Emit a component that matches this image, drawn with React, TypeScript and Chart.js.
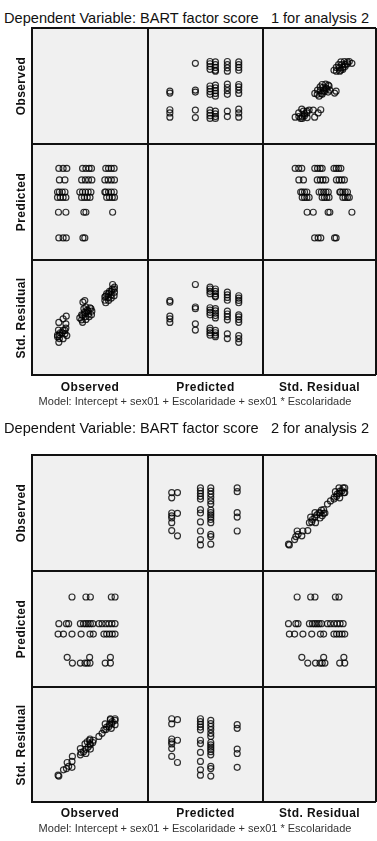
import React, { useEffect, useRef } from "react";
import { Chart, registerables } from "chart.js";

Chart.register(...registerables);

// ---------- Panel 1: BART factor score 1 ----------
// one entry per case
const p1Observed = [
  0.02, -0.08, -0.98, -1.15, -1.38,
  1.52, 0.08, -0.03, -1.0, -1.4,
  1.2, 1.35, 1.5, 1.62, -0.15, 0.0, 0.15, 0.3, -1.0, -1.15, -1.3, -1.45,
  1.1, 1.15, 1.3, 1.45, 1.6, -0.25, -0.1, 0.05, 0.2, 0.35, -1.05, -1.2, -1.35, -1.45,
  1.1, 1.28, 1.45, 1.62, -0.15, 0.05, 0.22, 0.4, -1.05, -1.35,
  1.15, 1.3, 1.45, 1.6, -0.1, 0.08, 0.25, 0.38, -0.95, -1.15, -1.38,
];
const p1Predicted = [
  -0.64, -0.64, -0.64, -0.64, -0.64,
  -0.17, -0.17, -0.17, -0.17, -0.17,
  0.1, 0.1, 0.1, 0.1, 0.1, 0.1, 0.1, 0.1, 0.1, 0.1, 0.1, 0.1,
  0.2, 0.2, 0.2, 0.2, 0.2, 0.2, 0.2, 0.2, 0.2, 0.2, 0.2, 0.2, 0.2, 0.2,
  0.42, 0.42, 0.42, 0.42, 0.42, 0.42, 0.42, 0.42, 0.42, 0.42,
  0.63, 0.63, 0.63, 0.63, 0.63, 0.63, 0.63, 0.63, 0.63, 0.63, 0.63,
];
const p1StdResidual = [
  0.66, 0.56, -0.34, -0.51, -0.74,
  1.69, 0.25, 0.14, -0.83, -1.23,
  1.1, 1.25, 1.4, 1.52, -0.25, -0.1, 0.05, 0.2, -1.1, -1.25, -1.4, -1.55,
  0.9, 0.95, 1.1, 1.25, 1.4, -0.45, -0.3, -0.15, 0.0, 0.15, -1.25, -1.4, -1.55, -1.65,
  0.68, 0.86, 1.03, 1.2, -0.57, -0.37, -0.2, -0.02, -1.47, -1.77,
  0.52, 0.67, 0.82, 0.97, -0.73, -0.55, -0.38, -0.25, -1.58, -1.78, -2.01,
];

// ---------- Panel 2: BART factor score 2 ----------
const p2Observed = [
  1.25, 0.97, 0.15, 0.0, -0.12, -0.37, -0.8,
  1.25, 0.13, -1.08,
  1.5, 1.35, 1.2, 1.05, 0.9, 0.33, 0.15, -0.33, -0.82, -1.28, -1.57,
  1.5, 1.33, 1.17, 1.0, 0.8, 0.63, 0.3, 0.17, 0.05, -0.07, -0.2, -0.37, -1.0, -1.12, -1.53,
  1.5, 1.3, 0.17, -0.07, -0.82,
];
const p2Predicted = [
  -0.27, -0.27, -0.27, -0.27, -0.27, -0.27, -0.27,
  -0.22, -0.22, -0.22,
  -0.02, -0.02, -0.02, -0.02, -0.02, -0.02, -0.02, -0.02, -0.02, -0.02, -0.02,
  0.07, 0.07, 0.07, 0.07, 0.07, 0.07, 0.07, 0.07, 0.07, 0.07, 0.07, 0.07, 0.07, 0.07, 0.07,
  0.3, 0.3, 0.3, 0.3, 0.3,
];
const p2StdResidual = [
  1.52, 1.24, 0.42, 0.27, 0.15, -0.1, -0.53,
  1.47, 0.35, -0.86,
  1.52, 1.37, 1.22, 1.07, 0.92, 0.35, 0.17, -0.31, -0.8, -1.26, -1.55,
  1.43, 1.26, 1.1, 0.93, 0.73, 0.56, 0.23, 0.1, -0.02, -0.14, -0.27, -0.44, -1.07, -1.19, -1.6,
  1.2, 1.0, -0.13, -0.37, -1.12,
];

const variableNames = ["Observed", "Predicted", "Std. Residual"];
const modelText = "Model: Intercept + sex01 + Escolaridade + sex01 * Escolaridade";
const p1Title = "Dependent Variable: BART factor score   1 for analysis 2";
const p2Title = "Dependent Variable: BART factor score   2 for analysis 2";

// axis ranges (scale options) per variable
const p1Ranges: [number, number][] = [[-2.6, 3.2], [-0.966, 1.0], [-3.835, 2.988]];
const p2Ranges: [number, number][] = [[-2.75, 3.05], [-0.44, 0.488], [-2.78, 3.02]];

const COLS = [32, 148, 263, 376];

type CellProps = { xs: number[]; ys: number[]; xr: [number, number]; yr: [number, number]; w: number; h: number };

function ScatterCell({ xs, ys, xr, yr, w, h }: CellProps) {
  const ref = useRef<HTMLCanvasElement | null>(null);
  useEffect(() => {
    if (!ref.current) return;
    const pts = xs.map((x, i) => ({ x, y: ys[i] }));
    const chart = new Chart(ref.current, {
      type: "scatter",
      data: {
        datasets: [
          {
            data: pts,
            pointRadius: 3,
            pointHoverRadius: 3,
            pointBorderWidth: 1.2,
            borderColor: "rgba(0,0,0,0.8)",
            backgroundColor: "rgba(0,0,0,0)",
          },
        ],
      },
      options: {
        animation: false,
        responsive: false,
        maintainAspectRatio: false,
        events: [],
        layout: { padding: 0 },
        plugins: { legend: { display: false }, tooltip: { enabled: false } },
        scales: {
          x: { type: "linear", display: false, min: xr[0], max: xr[1] },
          y: { type: "linear", display: false, min: yr[0], max: yr[1] },
        },
      },
    });
    return () => chart.destroy();
  }, []);
  return (
    <canvas
      ref={ref}
      width={w}
      height={h}
      style={{ position: "absolute", left: 0, top: 0, width: w, height: h }}
    />
  );
}

type PanelProps = {
  title: string;
  titleY: number;
  rows: number[];
  vars: number[][];
  ranges: [number, number][];
  labelY: number;
  modelY: number;
};

function Panel({ title, titleY, rows, vars, ranges, labelY, modelY }: PanelProps) {
  const cells: React.ReactNode[] = [];
  for (let r = 0; r < 3; r++) {
    for (let c = 0; c < 3; c++) {
      const left = COLS[c];
      const top = rows[r];
      const w = COLS[c + 1] - COLS[c];
      const h = rows[r + 1] - rows[r];
      cells.push(
        <div
          key={`c${r}${c}`}
          style={{ position: "absolute", left, top, width: w, height: h, background: "#f0f0f0", overflow: "hidden" }}
        >
          {r !== c && (
            <ScatterCell xs={vars[c]} ys={vars[r]} xr={ranges[c]} yr={ranges[r]} w={w} h={h} />
          )}
        </div>
      );
    }
  }
  const lines: React.ReactNode[] = [];
  COLS.forEach((x, i) =>
    lines.push(
      <div key={`v${i}`} style={{ position: "absolute", left: x - 1, top: rows[0], width: 1.5, height: rows[3] - rows[0], background: "#111" }} />
    )
  );
  rows.forEach((y, i) =>
    lines.push(
      <div key={`h${i}`} style={{ position: "absolute", left: COLS[0] - 1, top: y - 1, width: COLS[3] - COLS[0] + 1, height: 1.5, background: "#111" }} />
    )
  );
  const bold: React.CSSProperties = {
    position: "absolute",
    fontFamily: "'Liberation Sans', Arial, sans-serif",
    fontWeight: "bold",
    fontSize: 12,
    letterSpacing: 0.4,
    whiteSpace: "pre",
    color: "#111",
    lineHeight: "14px",
  };
  return (
    <>
      <div
        style={{
          position: "absolute",
          left: 4,
          top: titleY - 9,
          fontFamily: "'Liberation Sans', Arial, sans-serif",
          fontSize: 14.6,
          lineHeight: "18px",
          whiteSpace: "pre",
          color: "#111",
        }}
      >
        {title}
      </div>
      {cells}
      {lines}
      {variableNames.map((name, r) => (
        <div
          key={`rl${r}`}
          style={{
            ...bold,
            left: 21,
            top: (rows[r] + rows[r + 1]) / 2,
            transform: "translate(-50%, -50%) rotate(-90deg)",
          }}
        >
          {name}
        </div>
      ))}
      {variableNames.map((name, c) => (
        <div
          key={`cl${c}`}
          style={{
            ...bold,
            left: (COLS[c] + COLS[c + 1]) / 2,
            top: labelY,
            transform: "translate(-50%, -50%)",
          }}
        >
          {name}
        </div>
      ))}
      <div
        style={{
          position: "absolute",
          left: 195,
          top: modelY,
          transform: "translate(-50%, -50%)",
          fontFamily: "'Liberation Sans', Arial, sans-serif",
          fontSize: 11,
          lineHeight: "13px",
          whiteSpace: "pre",
          color: "#333",
        }}
      >
        {modelText}
      </div>
    </>
  );
}

export default function App() {
  useEffect(() => {
    document.body.style.margin = "0";
    document.body.style.background = "#fff";
  }, []);
  return (
    <div style={{ position: "absolute", left: 0, top: 0, width: 377, height: 841, background: "#fff", overflow: "hidden" }}>
      <Panel
        title={p1Title}
        titleY={18}
        rows={[28, 144, 260, 375]}
        vars={[p1Observed, p1Predicted, p1StdResidual]}
        ranges={p1Ranges}
        labelY={387}
        modelY={401}
      />
      <Panel
        title={p2Title}
        titleY={428}
        rows={[455, 571, 687, 802]}
        vars={[p2Observed, p2Predicted, p2StdResidual]}
        ranges={p2Ranges}
        labelY={813}
        modelY={828}
      />
    </div>
  );
}
